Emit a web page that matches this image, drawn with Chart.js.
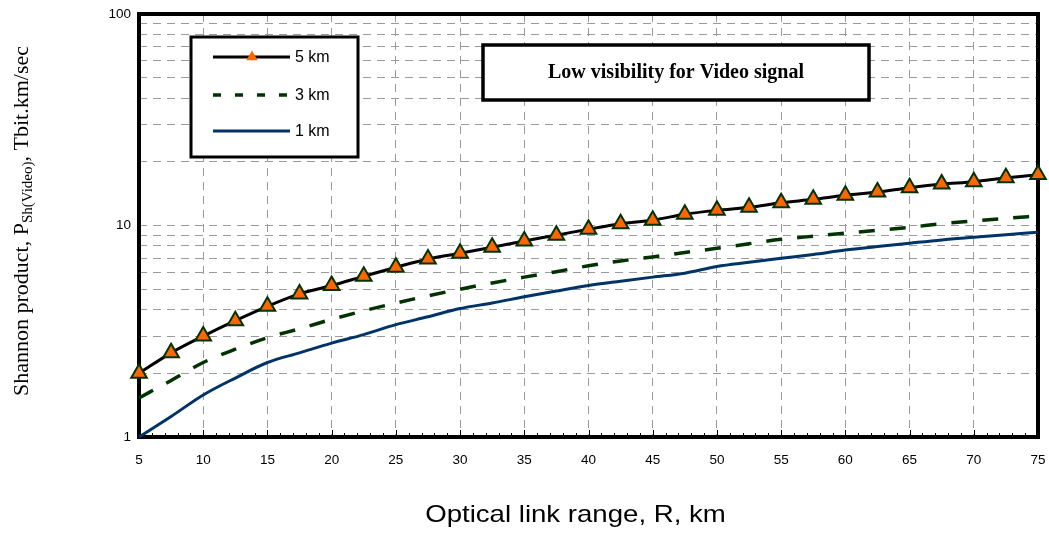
<!DOCTYPE html>
<html>
<head>
<meta charset="utf-8">
<script src="https://cdn.jsdelivr.net/npm/chart.js@4.4.1/dist/chart.umd.min.js"></script>
<style>
  html, body { margin: 0; padding: 0; background: #fff; }
  #wrap { width: 1049px; height: 533px; }
</style>
</head>
<body>
<div id="wrap"><canvas id="chart" width="1049" height="533"></canvas></div>
<script>
// optical link range, km
const rangeKm = [5, 7.5, 10, 12.5, 15, 17.5, 20, 22.5, 25, 27.5, 30, 32.5, 35, 37.5, 40,
  42.5, 45, 47.5, 50, 52.5, 55, 57.5, 60, 62.5, 65, 67.5, 70, 72.5, 75];

// Shannon product, Tbit.km/sec, per visibility
const vis5km = [2.0, 2.5, 3.0, 3.55, 4.15, 4.75, 5.2, 5.75, 6.35, 6.95, 7.4, 7.9, 8.45, 9.0, 9.6,
  10.2, 10.6, 11.3, 11.8, 12.2, 12.8, 13.3, 13.9, 14.4, 15.1, 15.7, 16.1, 16.8, 17.4];
const vis3km = [1.53, 1.85, 2.25, 2.6, 2.95, 3.25, 3.6, 3.95, 4.3, 4.65, 5.0, 5.35, 5.7, 6.05, 6.45,
  6.8, 7.1, 7.45, 7.8, 8.2, 8.6, 8.9, 9.2, 9.5, 9.8, 10.2, 10.5, 10.8, 11.1];
const vis1km = [1.0, 1.25, 1.58, 1.9, 2.25, 2.5, 2.78, 3.05, 3.4, 3.7, 4.05, 4.3, 4.6, 4.9, 5.2,
  5.45, 5.7, 5.95, 6.4, 6.7, 7.0, 7.3, 7.65, 7.95, 8.25, 8.55, 8.8, 9.05, 9.3];

const seriesLabels = ["5 km", "3 km", "1 km"];
const yGridValues = [1, 2, 3, 4, 5, 6, 7, 8, 9, 10, 20, 30, 40, 50, 60, 70, 80, 90, 100];
const yTickLabels = ["1", "10", "100"];

const toPoints = (ys) => ys.map((y, i) => ({ x: rangeKm[i], y: y }));

// frame round the plot + small x ticks every 1 km
const framePlugin = {
  id: "frame",
  beforeDatasetsDraw(chart) {
    const { ctx, chartArea: a, scales } = chart;
    ctx.save();
    ctx.strokeStyle = "#000";
    ctx.lineWidth = 1;
    for (let v = 6; v < 75; v++) {
      const px = Math.round(scales.x.getPixelForValue(v)) + 0.5;
      ctx.beginPath();
      ctx.moveTo(px, a.bottom);
      ctx.lineTo(px, a.bottom - (v % 5 === 0 ? 7 : 4));
      ctx.stroke();
    }
    ctx.lineWidth = 4;
    ctx.strokeRect(a.left, a.top, a.right - a.left, a.bottom - a.top);
    ctx.restore();
  },
};

// boxed legend, boxed title, axis titles
const boxesPlugin = {
  id: "boxes",
  afterDraw(chart) {
    const { ctx, chartArea: a } = chart;
    ctx.save();

    // legend
    ctx.fillStyle = "#fff";
    ctx.fillRect(191, 37, 167, 120);
    ctx.strokeStyle = "#000";
    ctx.lineWidth = 3;
    ctx.strokeRect(191, 37, 167, 120);
    const rows = [57, 95, 131];
    chart.data.datasets.forEach((ds, i) => {
      const y = rows[i];
      ctx.save();
      ctx.strokeStyle = ds.borderColor;
      ctx.lineWidth = ds.borderWidth;
      ctx.setLineDash(ds.borderDash ? [8, 14] : []);
      ctx.beginPath();
      ctx.moveTo(213, y);
      ctx.lineTo(290, y);
      ctx.stroke();
      ctx.restore();
      if (ds.pointRadius > 0) {
        ctx.fillStyle = ds.pointBackgroundColor;
        ctx.strokeStyle = ds.pointBorderColor;
        ctx.lineWidth = 2;
        Chart.helpers.drawPoint(ctx, { pointStyle: "triangle", radius: 6.5, rotation: 0 }, 252, y);
      }
      ctx.fillStyle = "#000";
      ctx.font = "16px 'Liberation Sans', Arial, sans-serif";
      ctx.textBaseline = "middle";
      ctx.textAlign = "left";
      ctx.fillText(ds.label, 295, y + 1);
    });

    // title box
    ctx.fillStyle = "#fff";
    ctx.fillRect(483, 45, 386, 55);
    ctx.lineWidth = 3.5;
    ctx.strokeStyle = "#000";
    ctx.strokeRect(483, 45, 386, 55);
    ctx.fillStyle = "#000";
    ctx.font = "bold 20px 'Liberation Serif', 'Times New Roman', serif";
    ctx.textAlign = "center";
    ctx.textBaseline = "middle";
    ctx.fillText("Low visibility for Video signal", 676, 73);

    // x axis title (slightly wide, as in the original)
    ctx.save();
    ctx.font = "24px 'Liberation Sans', Arial, sans-serif";
    ctx.textAlign = "center";
    ctx.textBaseline = "alphabetic";
    ctx.translate((a.left + a.right) / 2 - 13, 522);
    ctx.scale(1.15, 1);
    ctx.fillText("Optical link range, R, km", 0, 0);
    ctx.restore();

    // y axis title with subscript
    const parts = [
      { t: "Shannon product, P", size: 22, dy: 0 },
      { t: "Sh(Video)", size: 15, dy: 4 },
      { t: ", Tbit.km/sec", size: 22, dy: 0 },
    ];
    let total = 0;
    parts.forEach((p) => {
      ctx.font = p.size + "px 'Liberation Serif', 'Times New Roman', serif";
      p.w = ctx.measureText(p.t).width;
      total += p.w;
    });
    ctx.translate(28, 221);
    ctx.rotate(-Math.PI / 2);
    ctx.textAlign = "left";
    ctx.textBaseline = "alphabetic";
    let x = -total / 2;
    parts.forEach((p) => {
      ctx.font = p.size + "px 'Liberation Serif', 'Times New Roman', serif";
      ctx.fillText(p.t, x, p.dy);
      x += p.w;
    });
    ctx.restore();
  },
};

const tickFont = { family: "'Liberation Sans', Arial, sans-serif", size: 13.5 };

new Chart(document.getElementById("chart"), {
  type: "line",
  data: {
    datasets: [
      {
        label: seriesLabels[0],
        data: toPoints(vis5km),
        borderColor: "#000",
        borderWidth: 3,
        pointStyle: "triangle",
        pointRadius: 9,
        pointBackgroundColor: "#FF6600",
        pointBorderColor: "#003300",
        pointBorderWidth: 2,
        cubicInterpolationMode: "monotone",
        clip: false,
      },
      {
        label: seriesLabels[1],
        data: toPoints(vis3km),
        borderColor: "#003300",
        borderWidth: 3.5,
        borderDash: [16, 15],
        pointRadius: 0,
        cubicInterpolationMode: "monotone",
        clip: false,
      },
      {
        label: seriesLabels[2],
        data: toPoints(vis1km),
        borderColor: "#003366",
        borderWidth: 3,
        pointRadius: 0,
        cubicInterpolationMode: "monotone",
        clip: false,
      },
    ],
  },
  options: {
    responsive: false,
    animation: false,
    devicePixelRatio: 1,
    layout: { padding: { top: 14, right: 9, left: 0, bottom: 0 } },
    plugins: { legend: { display: false }, tooltip: { enabled: false } },
    scales: {
      x: {
        type: "linear",
        min: 5,
        max: 75,
        ticks: { stepSize: 5, font: tickFont, color: "#000", padding: 15, maxRotation: 0 },
        grid: { color: "#9a9a9a", lineWidth: 1, drawTicks: false },
        border: { display: false, dash: [8, 6] },
        afterFit(scale) {
          scale.height = 96;
          scale.paddingLeft = 0;
          scale.paddingRight = 0;
        },
      },
      y: {
        type: "logarithmic",
        min: 1,
        max: 100,
        afterBuildTicks(scale) {
          scale.ticks = yGridValues.map((v) => ({ value: v }));
        },
        ticks: {
          autoSkip: false,
          font: tickFont,
          color: "#000",
          padding: 8,
          callback: (v) => (yTickLabels.includes(String(v)) ? String(v) : ""),
        },
        grid: { color: "#9a9a9a", lineWidth: 1, drawTicks: false },
        border: { display: false, dash: [8, 6] },
        afterFit(scale) {
          scale.width = 139;
          scale.paddingTop = 0;
          scale.paddingBottom = 0;
        },
      },
    },
  },
  plugins: [framePlugin, boxesPlugin],
});
</script>
</body>
</html>
